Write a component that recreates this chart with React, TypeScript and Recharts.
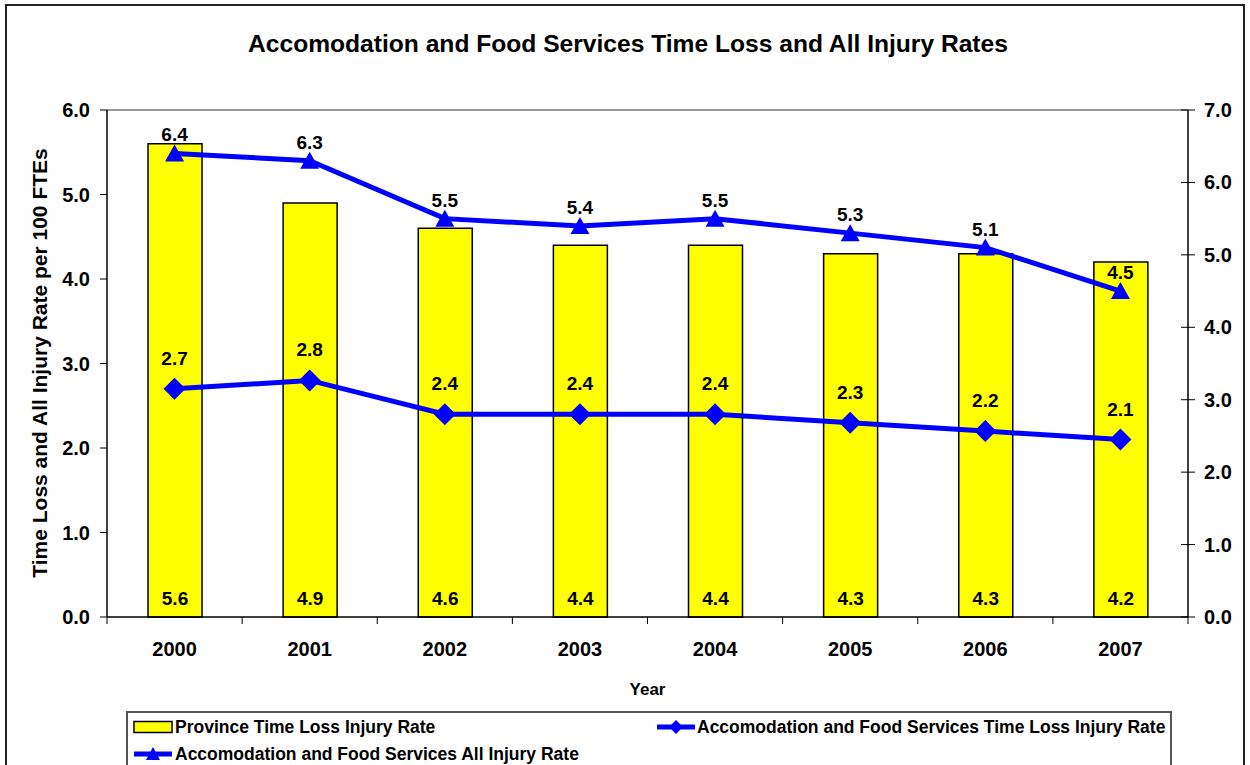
import { ComposedChart, Bar, Line, XAxis, YAxis, Legend, LabelList, ReferenceLine } from 'recharts';

const years = ['2000', '2001', '2002', '2003', '2004', '2005', '2006', '2007'];
const provinceTimeLoss = [5.6, 4.9, 4.6, 4.4, 4.4, 4.3, 4.3, 4.2];
const accomTimeLoss = [2.7, 2.8, 2.4, 2.4, 2.4, 2.3, 2.2, 2.1];
const accomAllInjury = [6.4, 6.3, 5.5, 5.4, 5.5, 5.3, 5.1, 4.5];
const leftTicks = [0, 1, 2, 3, 4, 5, 6];
const rightTicks = [0, 1, 2, 3, 4, 5, 6, 7];

const data = years.map((year, i) => ({
  year,
  province: provinceTimeLoss[i],
  timeLoss: accomTimeLoss[i],
  allInjury: accomAllInjury[i],
}));

const FONT = '"Liberation Sans", Arial, sans-serif';
const BLUE = '#0000FF';
const YELLOW = '#FFFF00';
const BAND = 1081 / 8;

const XTick = (props: any) => {
  const { x, y, payload, index } = props;
  const top = y - 27;
  return (
    <g>
      <line x1={x - BAND / 2} x2={x - BAND / 2} y1={top} y2={top + 7} stroke="#000" />
      {index === years.length - 1 && (
        <line x1={x + BAND / 2} x2={x + BAND / 2} y1={top} y2={top + 7} stroke="#000" />
      )}
      <text x={x} y={y + 12} textAnchor="middle" fontFamily={FONT} fontWeight="bold" fontSize={20} fill="#000">
        {payload.value}
      </text>
    </g>
  );
};

const LeftTick = (props: any) => {
  const { x, y, payload } = props;
  return (
    <g>
      <line x1={x + 10} x2={x + 17} y1={y} y2={y} stroke="#000" />
      <text x={x} y={y + 7} textAnchor="end" fontFamily={FONT} fontWeight="bold" fontSize={20} fill="#000">
        {payload.value.toFixed(1)}
      </text>
    </g>
  );
};

const RightTick = (props: any) => {
  const { x, y, payload } = props;
  return (
    <g>
      <line x1={x - 23} x2={x - 9} y1={y} y2={y} stroke="#000" />
      <text x={x} y={y + 7} textAnchor="start" fontFamily={FONT} fontWeight="bold" fontSize={20} fill="#000">
        {payload.value.toFixed(1)}
      </text>
    </g>
  );
};

const Diamond = (props: any) => {
  const { cx, cy } = props;
  if (cx == null || cy == null) return null;
  const r = 11;
  return <polygon points={`${cx},${cy - r} ${cx + r},${cy} ${cx},${cy + r} ${cx - r},${cy}`} fill={BLUE} />;
};

const Triangle = (props: any) => {
  const { cx, cy } = props;
  if (cx == null || cy == null) return null;
  return <polygon points={`${cx},${cy - 9} ${cx + 9.5},${cy + 8} ${cx - 9.5},${cy + 8}`} fill={BLUE} />;
};

const pointLabel = (lift: number) => (props: any) => {
  const { x, y, value } = props;
  return (
    <text x={x} y={y - lift} textAnchor="middle" fontFamily={FONT} fontWeight="bold" fontSize={19} fill="#000">
      {Number(value).toFixed(1)}
    </text>
  );
};

const BarLabel = (props: any) => {
  const { x, y, width, height, value } = props;
  return (
    <text x={x + width / 2} y={y + height - 12} textAnchor="middle" fontFamily={FONT} fontWeight="bold" fontSize={19} fill="#000">
      {Number(value).toFixed(1)}
    </text>
  );
};

const YLabel = () => (
  <text
    x={47}
    y={363}
    transform="rotate(-90 47 363)"
    textAnchor="middle"
    fontFamily={FONT}
    fontWeight="bold"
    fontSize={21}
    fill="#000"
  >
    Time Loss and All Injury Rate per 100 FTEs
  </text>
);

const LegendBox = () => {
  const text = { fontFamily: FONT, fontWeight: 'bold' as const, fontSize: 17.5, color: '#000', whiteSpace: 'nowrap' as const, lineHeight: '20px' };
  const item = { position: 'absolute' as const, display: 'flex', alignItems: 'center' };
  return (
    <div style={{ position: 'relative', width: 1046, height: 70, border: '2px solid #555', boxSizing: 'border-box', background: '#fff' }}>
      <div style={{ ...item, left: 4, top: 4 }}>
        <svg width={42} height={16}>
          <rect x={2} y={2.5} width={38} height={11} fill={YELLOW} stroke="#000" strokeWidth={1.5} />
        </svg>
        <span style={{ ...text, marginLeft: 1 }}>Province Time Loss Injury Rate</span>
      </div>
      <div style={{ ...item, left: 527, top: 4 }}>
        <svg width={42} height={16}>
          <line x1={2} x2={40} y1={8} y2={8} stroke={BLUE} strokeWidth={5} />
          <polygon points="21,1 28,8 21,15 14,8" fill={BLUE} />
        </svg>
        <span style={{ ...text, marginLeft: 0 }}>Accomodation and Food Services Time Loss Injury Rate</span>
      </div>
      <div style={{ ...item, left: 4, top: 31 }}>
        <svg width={42} height={16}>
          <line x1={2} x2={40} y1={8} y2={8} stroke={BLUE} strokeWidth={5} />
          <polygon points="21,1 28,14 14,14" fill={BLUE} />
        </svg>
        <span style={{ ...text, marginLeft: 1 }}>Accomodation and Food Services All Injury Rate</span>
      </div>
    </div>
  );
};

export default function App() {
  return (
    <div style={{ position: 'absolute', left: 0, top: 0, width: 1250, height: 765, overflow: 'hidden', background: '#fff' }}>
      <div style={{ position: 'absolute', left: 5, top: 4, width: 1240, height: 800, border: '2px solid #222', boxSizing: 'border-box' }} />
      <div
        style={{
          position: 'absolute',
          left: 0,
          top: 32,
          width: 1256,
          textAlign: 'center',
          fontFamily: FONT,
          fontWeight: 'bold',
          fontSize: 24.6,
          lineHeight: '24px',
          color: '#000',
        }}
      >
        Accomodation and Food Services Time Loss and All Injury Rates
      </div>
      <ComposedChart
        width={1250}
        height={765}
        data={data}
        margin={{ top: 110, right: 0, bottom: 68, left: 20 }}
        style={{ position: 'absolute', left: 0, top: 0 }}
      >
        <XAxis
          dataKey="year"
          height={80}
          tickSize={0}
          tickMargin={27}
          tick={<XTick />}
          axisLine={{ stroke: '#000', strokeWidth: 1.5 }}
          tickLine={false}
          interval={0}
          label={{ value: 'Year', position: 'insideBottom', offset: 2, fontFamily: FONT, fontWeight: 'bold', fontSize: 17, fill: '#000' }}
        />
        <YAxis
          yAxisId="left"
          width={87}
          domain={[0, 6]}
          ticks={leftTicks}
          interval={0}
          tickSize={0}
          tickMargin={17}
          tick={<LeftTick />}
          tickLine={false}
          axisLine={{ stroke: '#000', strokeWidth: 1.5 }}
          label={{ content: () => <YLabel /> }}
        />
        <YAxis
          yAxisId="right"
          orientation="right"
          width={62}
          domain={[0, 7]}
          ticks={rightTicks}
          interval={0}
          tickSize={0}
          tickMargin={16}
          tick={<RightTick />}
          tickLine={false}
          axisLine={{ stroke: '#000', strokeWidth: 1.5 }}
        />
        <ReferenceLine yAxisId="left" y={6} stroke="#999" strokeWidth={2} />
        <Bar
          yAxisId="left"
          dataKey="province"
          name="Province Time Loss Injury Rate"
          fill={YELLOW}
          stroke="#000"
          strokeWidth={1.5}
          barSize={54}
          isAnimationActive={false}
        >
          <LabelList dataKey="province" content={<BarLabel />} />
        </Bar>
        <Line
          yAxisId="left"
          dataKey="timeLoss"
          name="Accomodation and Food Services Time Loss Injury Rate"
          stroke={BLUE}
          strokeWidth={5}
          dot={<Diamond />}
          activeDot={false}
          isAnimationActive={false}
        >
          <LabelList dataKey="timeLoss" content={pointLabel(24)} />
        </Line>
        <Line
          yAxisId="right"
          dataKey="allInjury"
          name="Accomodation and Food Services All Injury Rate"
          stroke={BLUE}
          strokeWidth={5}
          dot={<Triangle />}
          activeDot={false}
          isAnimationActive={false}
        >
          <LabelList dataKey="allInjury" content={pointLabel(12)} />
        </Line>
        <Legend
          layout="vertical"
          align="center"
          verticalAlign="middle"
          content={() => <LegendBox />}
          wrapperStyle={{ left: 126, top: 711, width: 1046, height: 70 }}
        />
      </ComposedChart>
    </div>
  );
}
